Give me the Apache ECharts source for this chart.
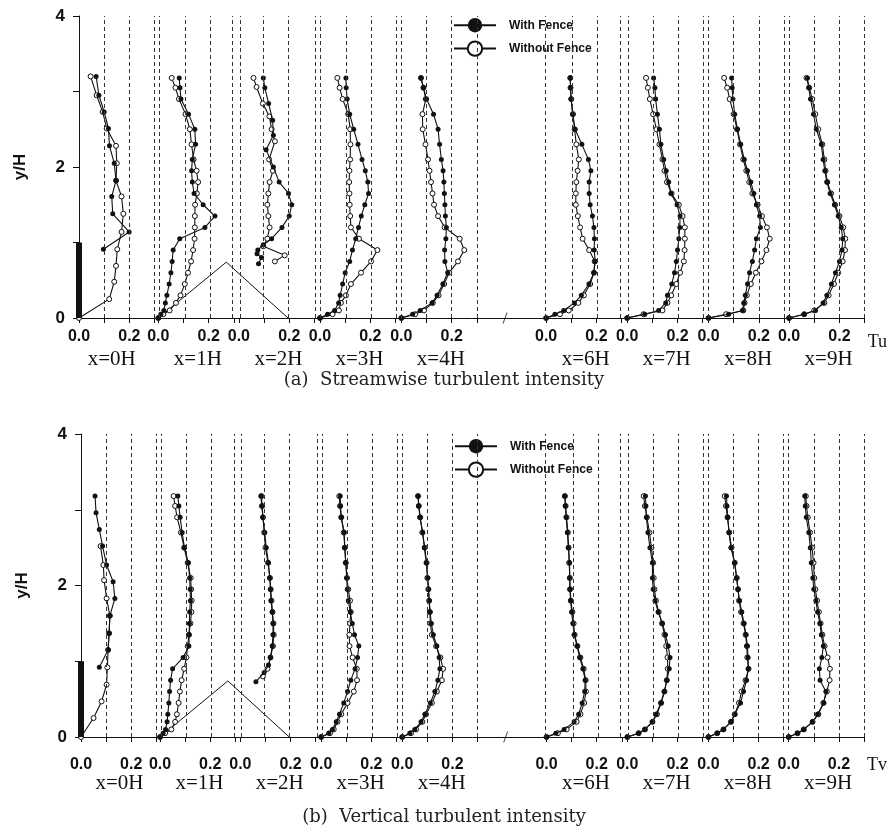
<!DOCTYPE html>
<html>
<head>
<meta charset="utf-8">
<script src="https://cdn.jsdelivr.net/npm/echarts@6/dist/echarts.min.js"></script>
<style>
html, body { margin: 0; background: #fff; }
#chart { width: 888px; height: 833px; }
</style>
</head>
<body>
<div id="chart"></div>
<script>
// stations along the ground, and where each profile's 0.0 sits on the shared axis
var stationNames = ['0H', '1H', '2H', '3H', '4H', '6H', '7H', '8H', '9H'];
var stationOffsets = [0, 0.315, 0.635, 0.957, 1.28, 1.855, 2.177, 2.5, 2.82];

// common measuring heights y/H
var heights = [0, 0.05, 0.1, 0.2, 0.3, 0.45, 0.6, 0.75, 0.9, 1.05, 1.2, 1.35, 1.5, 1.65, 1.8, 1.95, 2.1, 2.3, 2.5, 2.7, 2.9, 3.05, 3.18];

// fence and hill outline
var fenceY = [0, 1.0];
var hillX = [0.315, 0.585, 0.83];
var hillY = [0, 0.74, 0];

// (a) streamwise Tu
var a0H_withY = [0.91, 1.14, 1.38, 1.61, 1.82, 2.05, 2.28, 2.51, 2.73, 2.95, 3.2];
var a0H_with = [0.097, 0.199, 0.134, 0.13, 0.147, 0.14, 0.121, 0.117, 0.1, 0.079, 0.068];
var a0H_withoutY = [0, 0.25, 0.48, 0.69, 0.91, 1.14, 1.38, 1.61, 1.82, 2.05, 2.28, 2.51, 2.73, 2.95, 3.2];
var a0H_without = [0, 0.12, 0.14, 0.147, 0.152, 0.169, 0.176, 0.169, 0.147, 0.15, 0.147, 0.11, 0.094, 0.07, 0.046];
var a1H_with = [0, 0.01, 0.022, 0.028, 0.034, 0.043, 0.05, 0.055, 0.059, 0.085, 0.185, 0.225, 0.178, 0.142, 0.135, 0.132, 0.135, 0.148, 0.145, 0.12, 0.09, 0.086, 0.083];
var a1H_without = [0, 0.02, 0.045, 0.07, 0.088, 0.105, 0.118, 0.13, 0.138, 0.144, 0.145, 0.145, 0.146, 0.153, 0.158, 0.152, 0.14, 0.132, 0.125, 0.108, 0.082, 0.068, 0.053];
var a2H_withY = [0.72, 0.8, 0.85, 0.9, 0.97, 1.05, 1.2, 1.35, 1.5, 1.65, 1.8, 2.0, 2.23, 2.42, 2.62, 2.84, 3.05, 3.18];
var a2H_with = [0.078, 0.09, 0.072, 0.075, 0.097, 0.13, 0.171, 0.2, 0.21, 0.197, 0.16, 0.137, 0.108, 0.137, 0.134, 0.118, 0.103, 0.097];
var a2H_withoutY = [0.75, 0.83, 0.95, 1.05, 1.2, 1.35, 1.5, 1.65, 1.8, 1.95, 2.1, 2.34, 2.5, 2.67, 2.84, 3.06, 3.18];
var a2H_without = [0.143, 0.182, 0.097, 0.113, 0.122, 0.117, 0.113, 0.117, 0.122, 0.135, 0.12, 0.143, 0.13, 0.121, 0.095, 0.07, 0.058];
var a3H_with = [0, 0.03, 0.058, 0.074, 0.08, 0.09, 0.1, 0.118, 0.129, 0.142, 0.153, 0.164, 0.178, 0.193, 0.19, 0.18, 0.167, 0.151, 0.134, 0.118, 0.108, 0.104, 0.103];
var a3H_without = [0, 0.05, 0.075, 0.083, 0.103, 0.123, 0.163, 0.203, 0.228, 0.155, 0.123, 0.12, 0.118, 0.117, 0.116, 0.117, 0.12, 0.121, 0.12, 0.112, 0.09, 0.078, 0.069];
var a4H_with = [0, 0.045, 0.075, 0.122, 0.142, 0.165, 0.184, 0.173, 0.172, 0.177, 0.179, 0.175, 0.173, 0.171, 0.169, 0.166, 0.159, 0.152, 0.146, 0.128, 0.1, 0.088, 0.078];
var a4H_without = [0, 0.055, 0.09, 0.125, 0.148, 0.17, 0.19, 0.225, 0.25, 0.232, 0.172, 0.146, 0.13, 0.124, 0.118, 0.112, 0.106, 0.096, 0.085, 0.084, 0.097, 0.088, 0.078];
var a6H_with = [0, 0.035, 0.07, 0.112, 0.14, 0.17, 0.19, 0.195, 0.191, 0.192, 0.19, 0.184, 0.175, 0.171, 0.171, 0.178, 0.168, 0.142, 0.115, 0.105, 0.099, 0.097, 0.096];
var a6H_without = [0, 0.055, 0.09, 0.128, 0.15, 0.175, 0.19, 0.193, 0.171, 0.145, 0.135, 0.126, 0.118, 0.118, 0.12, 0.125, 0.13, 0.12, 0.113, 0.107, 0.1, 0.097, 0.096];
var a7H_with = [0, 0.07, 0.125, 0.153, 0.16, 0.177, 0.188, 0.195, 0.2, 0.205, 0.209, 0.21, 0.198, 0.174, 0.165, 0.155, 0.145, 0.134, 0.128, 0.12, 0.113, 0.11, 0.105];
var a7H_without = [0, 0.065, 0.14, 0.16, 0.175, 0.195, 0.21, 0.225, 0.228, 0.229, 0.229, 0.22, 0.205, 0.176, 0.158, 0.148, 0.14, 0.128, 0.116, 0.103, 0.09, 0.082, 0.075];
var a8H_with = [0, 0.08, 0.135, 0.14, 0.146, 0.155, 0.163, 0.174, 0.183, 0.19, 0.206, 0.203, 0.19, 0.18, 0.168, 0.155, 0.142, 0.128, 0.115, 0.104, 0.097, 0.094, 0.092];
var a8H_without = [0, 0.07, 0.138, 0.143, 0.152, 0.168, 0.188, 0.21, 0.23, 0.243, 0.232, 0.212, 0.195, 0.174, 0.162, 0.15, 0.138, 0.125, 0.113, 0.1, 0.084, 0.074, 0.062];
var a9H_with = [0, 0.06, 0.105, 0.135, 0.15, 0.168, 0.184, 0.2, 0.21, 0.213, 0.207, 0.195, 0.18, 0.163, 0.15, 0.142, 0.135, 0.128, 0.108, 0.097, 0.085, 0.078, 0.073];
var a9H_without = [0, 0.06, 0.1, 0.14, 0.157, 0.178, 0.195, 0.213, 0.222, 0.223, 0.215, 0.2, 0.183, 0.167, 0.152, 0.145, 0.14, 0.132, 0.116, 0.104, 0.092, 0.08, 0.069];

// (b) vertical Tv
var b0H_withY = [0.92, 1.15, 1.37, 1.6, 1.83, 2.05, 2.27, 2.52, 2.74, 2.96, 3.18];
var b0H_with = [0.073, 0.108, 0.112, 0.115, 0.135, 0.128, 0.102, 0.086, 0.073, 0.06, 0.056];
var b0H_withoutY = [0, 0.25, 0.47, 0.69, 0.92, 1.15, 1.37, 1.6, 1.83, 2.07, 2.27, 2.52];
var b0H_without = [0, 0.05, 0.082, 0.102, 0.105, 0.108, 0.112, 0.115, 0.102, 0.092, 0.089, 0.078];
var b1H_with = [0, 0.012, 0.022, 0.028, 0.031, 0.035, 0.038, 0.042, 0.05, 0.092, 0.115, 0.116, 0.117, 0.118, 0.121, 0.12, 0.118, 0.113, 0.097, 0.088, 0.08, 0.075, 0.071];
var b1H_without = [0, 0.02, 0.045, 0.06, 0.067, 0.074, 0.079, 0.086, 0.096, 0.105, 0.11, 0.115, 0.121, 0.125, 0.126, 0.124, 0.122, 0.11, 0.096, 0.083, 0.068, 0.06, 0.054];
var b2H_withY = [0.73, 0.85, 0.95, 1.05, 1.2, 1.35, 1.5, 1.65, 1.8, 1.95, 2.1, 2.3, 2.5, 2.7, 2.9, 3.05, 3.18];
var b2H_with = [0.062, 0.095, 0.112, 0.12, 0.127, 0.13, 0.13, 0.127, 0.122, 0.12, 0.117, 0.112, 0.103, 0.097, 0.09, 0.085, 0.082];
var b2H_withoutY = [0.8, 0.9, 1.05, 1.2, 1.35, 1.5, 1.65, 1.8, 1.95, 2.1, 2.3, 2.5, 2.7, 2.9, 3.05, 3.18];
var b2H_without = [0.09, 0.108, 0.12, 0.13, 0.133, 0.132, 0.128, 0.124, 0.121, 0.118, 0.11, 0.1, 0.095, 0.09, 0.087, 0.084];
var b3H_with = [0, 0.03, 0.045, 0.06, 0.073, 0.09, 0.105, 0.118, 0.135, 0.145, 0.15, 0.133, 0.124, 0.116, 0.108, 0.104, 0.102, 0.098, 0.094, 0.092, 0.08, 0.077, 0.076];
var b3H_without = [0, 0.035, 0.05, 0.065, 0.08, 0.105, 0.13, 0.143, 0.142, 0.125, 0.113, 0.112, 0.115, 0.118, 0.115, 0.108, 0.103, 0.098, 0.094, 0.09, 0.08, 0.075, 0.072];
var b4H_with = [0, 0.03, 0.05, 0.075, 0.09, 0.112, 0.13, 0.142, 0.15, 0.147, 0.138, 0.124, 0.116, 0.111, 0.108, 0.105, 0.102, 0.096, 0.088, 0.082, 0.07, 0.066, 0.063];
var b4H_without = [0, 0.035, 0.055, 0.08, 0.095, 0.118, 0.138, 0.158, 0.163, 0.152, 0.135, 0.118, 0.112, 0.11, 0.107, 0.104, 0.1, 0.097, 0.09, 0.08, 0.072, 0.066, 0.063];
var b6H_with = [0, 0.037, 0.07, 0.11, 0.128, 0.142, 0.152, 0.154, 0.145, 0.132, 0.122, 0.11, 0.105, 0.1, 0.096, 0.093, 0.092, 0.092, 0.087, 0.083, 0.078, 0.075, 0.073];
var b6H_without = [0, 0.045, 0.08, 0.12, 0.135, 0.15, 0.157, 0.156, 0.148, 0.135, 0.123, 0.112, 0.108, 0.103, 0.097, 0.094, 0.093, 0.09, 0.088, 0.085, 0.08, 0.076, 0.073];
var b7H_with = [0, 0.045, 0.07, 0.1, 0.115, 0.133, 0.147, 0.158, 0.167, 0.17, 0.163, 0.152, 0.14, 0.123, 0.11, 0.103, 0.1, 0.1, 0.09, 0.082, 0.076, 0.074, 0.072];
var b7H_without = [0, 0.045, 0.07, 0.1, 0.118, 0.135, 0.148, 0.157, 0.161, 0.16, 0.155, 0.148, 0.138, 0.125, 0.114, 0.108, 0.105, 0.103, 0.096, 0.088, 0.078, 0.07, 0.065];
var b8H_with = [0, 0.035, 0.06, 0.09, 0.105, 0.128, 0.14, 0.152, 0.159, 0.158, 0.155, 0.15, 0.142, 0.133, 0.124, 0.118, 0.112, 0.104, 0.09, 0.082, 0.077, 0.074, 0.072];
var b8H_without = [0, 0.035, 0.06, 0.09, 0.105, 0.122, 0.132, 0.148, 0.16, 0.155, 0.153, 0.148, 0.14, 0.13, 0.122, 0.118, 0.113, 0.105, 0.092, 0.083, 0.076, 0.07, 0.065];
var b9H_with = [0, 0.035, 0.06, 0.095, 0.115, 0.14, 0.148, 0.125, 0.122, 0.132, 0.138, 0.13, 0.124, 0.115, 0.108, 0.1, 0.096, 0.09, 0.086, 0.08, 0.07, 0.066, 0.064];
var b9H_without = [0, 0.035, 0.06, 0.095, 0.118, 0.138, 0.152, 0.163, 0.164, 0.155, 0.143, 0.134, 0.127, 0.12, 0.113, 0.106, 0.102, 0.099, 0.093, 0.085, 0.076, 0.071, 0.068];

// [station, heights, values, with fence?]
var profilesA = [
    [0, a0H_withoutY, a0H_without, false], [0, a0H_withY, a0H_with, true],
    [1, heights, a1H_without, false], [1, heights, a1H_with, true],
    [2, a2H_withoutY, a2H_without, false], [2, a2H_withY, a2H_with, true],
    [3, heights, a3H_without, false], [3, heights, a3H_with, true],
    [4, heights, a4H_without, false], [4, heights, a4H_with, true],
    [5, heights, a6H_without, false], [5, heights, a6H_with, true],
    [6, heights, a7H_without, false], [6, heights, a7H_with, true],
    [7, heights, a8H_without, false], [7, heights, a8H_with, true],
    [8, heights, a9H_without, false], [8, heights, a9H_with, true]
];
var profilesB = [
    [0, b0H_withoutY, b0H_without, false], [0, b0H_withY, b0H_with, true],
    [1, heights, b1H_without, false], [1, heights, b1H_with, true],
    [2, b2H_withoutY, b2H_without, false], [2, b2H_withY, b2H_with, true],
    [3, heights, b3H_without, false], [3, heights, b3H_with, true],
    [4, heights, b4H_without, false], [4, heights, b4H_with, true],
    [5, heights, b6H_without, false], [5, heights, b6H_with, true],
    [6, heights, b7H_without, false], [6, heights, b7H_with, true],
    [7, heights, b8H_without, false], [7, heights, b8H_with, true],
    [8, heights, b9H_without, false], [8, heights, b9H_with, true]
];

var SANS = "'Liberation Sans', Arial, sans-serif";
var SERIF = "'Liberation Serif', 'Times New Roman', serif";
var INK = '#111';
var AXIS_MAX = 3.12;
var breakX = 1.692;

var tickVals = [], labelVals = [], guideVals = [];
stationOffsets.forEach(function (o, i) {
    [0, 0.1, 0.2, 0.3].forEach(function (d) {
        tickVals.push(o + d);
        if (!(i === 0 && d === 0)) guideVals.push(o + d);
    });
    labelVals.push(o, o + 0.2);
});

function tickLabel(v) {
    for (var i = 0; i < stationOffsets.length; i++) {
        if (Math.abs(v - stationOffsets[i]) < 1e-6) return '0.0';
        if (Math.abs(v - stationOffsets[i] - 0.2) < 1e-6) return '0.2';
    }
    return '';
}

var panels = [
    { grid: { left: 79, right: 20, top: 16, bottom: 515 }, unit: 'Tu', unitPad: 15,
      numMargin: 11, nameMargin: 31, shift0: 0.13, legendTop: 13, legendLeft: 448, profiles: profilesA },
    { grid: { left: 81, right: 17, top: 434, bottom: 96 }, unit: 'Tv', unitPad: 19,
      numMargin: 20, nameMargin: 36, shift0: 0.153, legendTop: 434, legendLeft: 449, profiles: profilesB }
];

var captionStyle = { fontFamily: "'DejaVu Serif', serif", fontSize: 18, fontWeight: 'normal', color: '#222' };

var option = {
    animation: false,
    backgroundColor: '#fff',
    title: [
        { text: '(a)  Streamwise turbulent intensity', left: 'center', top: 366, textStyle: captionStyle },
        { text: '(b)  Vertical turbulent intensity', left: 'center', top: 803, textStyle: captionStyle }
    ],
    grid: [], xAxis: [], yAxis: [], legend: [], series: []
};

panels.forEach(function (p, k) {
    option.grid.push(p.grid);
    var nameVals = stationOffsets.map(function (o, i) { return o + (i === 0 ? p.shift0 : 0.157); });

    option.xAxis.push({
        type: 'value', gridIndex: k, min: 0, max: AXIS_MAX, position: 'bottom',
        axisLine: { onZero: false, lineStyle: { color: INK, width: 1 } },
        axisTick: { customValues: tickVals, length: 5, lineStyle: { color: INK } },
        axisLabel: { customValues: labelVals, formatter: tickLabel, margin: p.numMargin,
                     fontFamily: SANS, fontSize: 16, fontWeight: 'bold', color: INK },
        splitLine: { show: false },
        name: p.unit, nameLocation: 'end', nameGap: 3,
        nameTextStyle: { fontFamily: SERIF, fontSize: 18, color: INK, verticalAlign: 'top', padding: [p.unitPad, 0, 0, 0] }
    });
    option.xAxis.push({
        type: 'value', gridIndex: k, min: 0, max: AXIS_MAX, position: 'bottom',
        axisLine: { show: false }, axisTick: { show: false }, splitLine: { show: false },
        axisLabel: { customValues: nameVals, margin: p.nameMargin, fontFamily: SERIF, fontSize: 21, color: INK,
            formatter: function (v) {
                for (var i = 0; i < nameVals.length; i++) {
                    if (Math.abs(v - nameVals[i]) < 1e-6) return 'x=' + stationNames[i];
                }
                return '';
            } }
    });
    option.yAxis.push({
        type: 'value', gridIndex: k, min: 0, max: 4, interval: 1,
        axisLine: { show: true, onZero: false, lineStyle: { color: INK, width: 1 } },
        axisTick: { show: true, length: 6, lineStyle: { color: INK } },
        axisLabel: { margin: 14, fontFamily: SANS, fontSize: 17, fontWeight: 'bold', color: INK,
                     formatter: function (v) { return v % 2 === 0 ? String(v) : ''; } },
        splitLine: { show: false },
        name: 'y/H', nameLocation: 'middle', nameGap: 50, nameRotate: 90,
        nameTextStyle: { fontFamily: SANS, fontSize: 17, fontWeight: 'bold', color: INK }
    });
    option.legend.push({
        data: ['With Fence', 'Without Fence'], orient: 'vertical', selectedMode: false,
        left: p.legendLeft, top: p.legendTop, itemWidth: 42, itemHeight: 18, itemGap: 8,
        textStyle: { fontFamily: SANS, fontSize: 12, fontWeight: 'bold', color: INK, padding: [0, 0, 0, 8] }
    });

    var xi = k * 2;
    p.profiles.forEach(function (pr) {
        var off = stationOffsets[pr[0]], ys = pr[1], vals = pr[2], filled = pr[3];
        option.series.push({
            type: 'line', name: filled ? 'With Fence' : 'Without Fence',
            xAxisIndex: xi, yAxisIndex: k,
            data: ys.map(function (y, j) { return [off + vals[j], y]; }),
            symbol: 'circle', symbolSize: 5, showAllSymbol: true,
            itemStyle: filled ? { color: INK, borderWidth: 0 } : { color: '#fff', borderColor: INK, borderWidth: 1 },
            lineStyle: { color: INK, width: 1.1 },
            emphasis: { disabled: true }, z: filled ? 4 : 3
        });
    });

    // hill outline, carrying the dashed guide lines
    option.series.push({
        type: 'line', xAxisIndex: xi, yAxisIndex: k,
        data: hillX.map(function (x, j) { return [x, hillY[j]]; }),
        symbol: 'none', lineStyle: { color: INK, width: 1 }, silent: true, z: 2,
        markLine: {
            silent: true, symbol: ['none', 'none'], label: { show: false },
            lineStyle: { color: '#333', width: 1, type: [4, 3] },
            data: guideVals.map(function (v) { return { xAxis: v }; })
        }
    });
    // fence
    option.series.push({
        type: 'line', xAxisIndex: xi, yAxisIndex: k, clip: false,
        data: fenceY.map(function (y) { return [0, y]; }),
        symbol: 'none', lineStyle: { color: INK, width: 6 }, silent: true, z: 5
    });
    // axis break mark
    option.series.push({
        type: 'scatter', xAxisIndex: xi, yAxisIndex: k, clip: false, silent: true,
        data: [[breakX, 0]],
        symbol: 'path://M4,0 L5,0 L1,10 L0,10 Z', symbolSize: [5, 11],
        itemStyle: { color: INK }, z: 6
    });
});

var chart = echarts.init(document.getElementById('chart'), null, { renderer: 'canvas' });
chart.setOption(option);
</script>
</body>
</html>
